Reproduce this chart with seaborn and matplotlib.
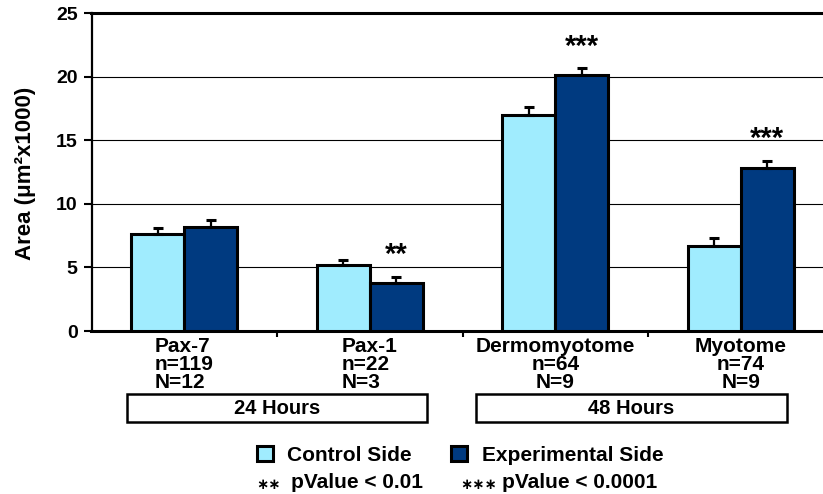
import matplotlib
matplotlib.use("Agg")
import matplotlib.pyplot as plt
from matplotlib.patches import Rectangle
import seaborn as sns
import pandas as pd
import numpy as np

# ---- data ----
categories = ["Pax-7", "Pax-1", "Dermomyotome", "Myotome"]
cell_counts = ["n=119", "n=22", "n=64", "n=74"]
embryo_counts = ["N=12", "N=3", "N=9", "N=9"]
sides = ["Control Side", "Experimental Side"]
control_area = [7.6, 5.2, 17.0, 6.7]
control_err = [0.5, 0.35, 0.6, 0.6]
experimental_area = [8.2, 3.8, 20.1, 12.8]
experimental_err = [0.5, 0.45, 0.55, 0.6]
significance = ["", "**", "***", "***"]
stage_groups = ["24 Hours", "48 Hours"]
y_ticks = [0, 5, 10, 15, 20, 25]

LIGHT = "#A0ECFE"
DARK = "#003A80"
W, H = 823, 494

sns.set_theme(style="white")
plt.rcParams["font.family"] = ["Liberation Sans", "DejaVu Sans"]
plt.rcParams["font.weight"] = "bold"
for key in ["text.color", "axes.labelcolor", "xtick.color", "ytick.color",
            "axes.edgecolor"]:
    plt.rcParams[key] = "black"

df = pd.DataFrame({
    "Category": categories * 2,
    "Side": [sides[0]] * len(categories) + [sides[1]] * len(categories),
    "Area": control_area + experimental_area,
})


def px(x, y):
    """Pixel position (from top-left) to figure fraction."""
    return (x / W, 1 - y / H)


fig = plt.figure(figsize=(W / 100, H / 100), dpi=100)
ax = fig.add_axes([91.5 / W, 1 - 331 / H, 742 / W, 318 / H])

sns.barplot(data=df, x="Category", y="Area", hue="Side",
            palette=[LIGHT, DARK], saturation=1, width=0.57, errorbar=None,
            edgecolor="black", linewidth=2.2, ax=ax, legend=False,
            zorder=3)
bar_groups = list(ax.containers)

# one-sided (upper) error bars and significance marks
for container, errs in zip(bar_groups, [control_err, experimental_err]):
    xs = [p.get_x() + p.get_width() / 2 for p in container.patches]
    ys = [p.get_height() for p in container.patches]
    ax.errorbar(xs, ys, yerr=[np.zeros(len(errs)), errs], fmt="none",
                ecolor="black", elinewidth=1.6, capsize=3.3, capthick=2.2,
                zorder=4)

for p, e, sig in zip(bar_groups[1].patches, experimental_err, significance):
    if sig:
        ax.annotate(sig, (p.get_x() + p.get_width() / 2, p.get_height() + e),
                    xytext=(0, 5.5), textcoords="offset points",
                    ha="center", va="bottom", fontsize=21, fontweight="bold")

# axes styling
ax.set_xlim(-0.5, 3.5)
ax.set_ylim(0, 25)
ax.set_yticks(y_ticks)
ax.yaxis.grid(True, color="black", linewidth=0.8)
ax.set_axisbelow(True)
ax.spines["left"].set_linewidth(1.6)
for side in ["top", "bottom"]:
    ax.spines[side].set_linewidth(2.2)
ax.spines["right"].set_visible(False)

ax.tick_params(axis="y", which="major", direction="out", length=6, width=1.5,
               pad=4, labelsize=14, left=True)
ax.set_xticks(range(len(categories)))
ax.set_xticklabels([f"{c}\n{n}\n{N}" for c, n, N in
                    zip(categories, cell_counts, embryo_counts)],
                   fontsize=15, fontweight="bold", linespacing=0.95)
for lab in ax.get_xticklabels()[:2]:
    lab.set_multialignment("left")
ax.tick_params(axis="x", which="major", length=0, pad=4)
ax.set_xticks([0.5, 1.5, 2.5], minor=True)
ax.tick_params(axis="x", which="minor", direction="out", length=4, width=1.5,
               bottom=True)
ax.set_xlabel("")
ax.set_ylabel("Area (\u03bcm\u00b2x1000)", fontsize=16, fontweight="bold")
ax.yaxis.set_label_coords(-0.075, 0.495)

# stage group boxes
for label, (x0, x1) in zip(stage_groups, [(127, 427), (476, 787)]):
    fig.add_artist(Rectangle(px(x0, 422), (x1 - x0) / W, 28 / H,
                             transform=fig.transFigure, fill=False,
                             edgecolor="black", linewidth=1.8))
    fig.text(*px((x0 + x1) / 2, 408), label, ha="center", va="center",
             fontsize=14.5, fontweight="bold")

# legend
handles = [c.patches[0] for c in bar_groups]
fig.legend(handles, sides, loc="center left", bbox_to_anchor=px(257, 455),
           frameon=False, handlelength=0.75, handleheight=0.75,
           handletextpad=0.7, columnspacing=1.9, ncol=2, borderpad=0,
           borderaxespad=0, prop={"weight": "bold", "size": 15})

star_font = dict(family="DejaVu Sans", fontsize=10.5, fontweight="bold")
fig.text(*px(256, 484), "\u2217\u2217", ha="left", va="center", **star_font)
fig.text(*px(291, 488), "pValue < 0.01", ha="left", va="baseline", fontsize=15)
fig.text(*px(460, 484), "\u2217\u2217\u2217", ha="left", va="center", **star_font)
fig.text(*px(502, 488), "pValue < 0.0001", ha="left", va="baseline", fontsize=15)

fig.savefig("out.png", dpi=100)
